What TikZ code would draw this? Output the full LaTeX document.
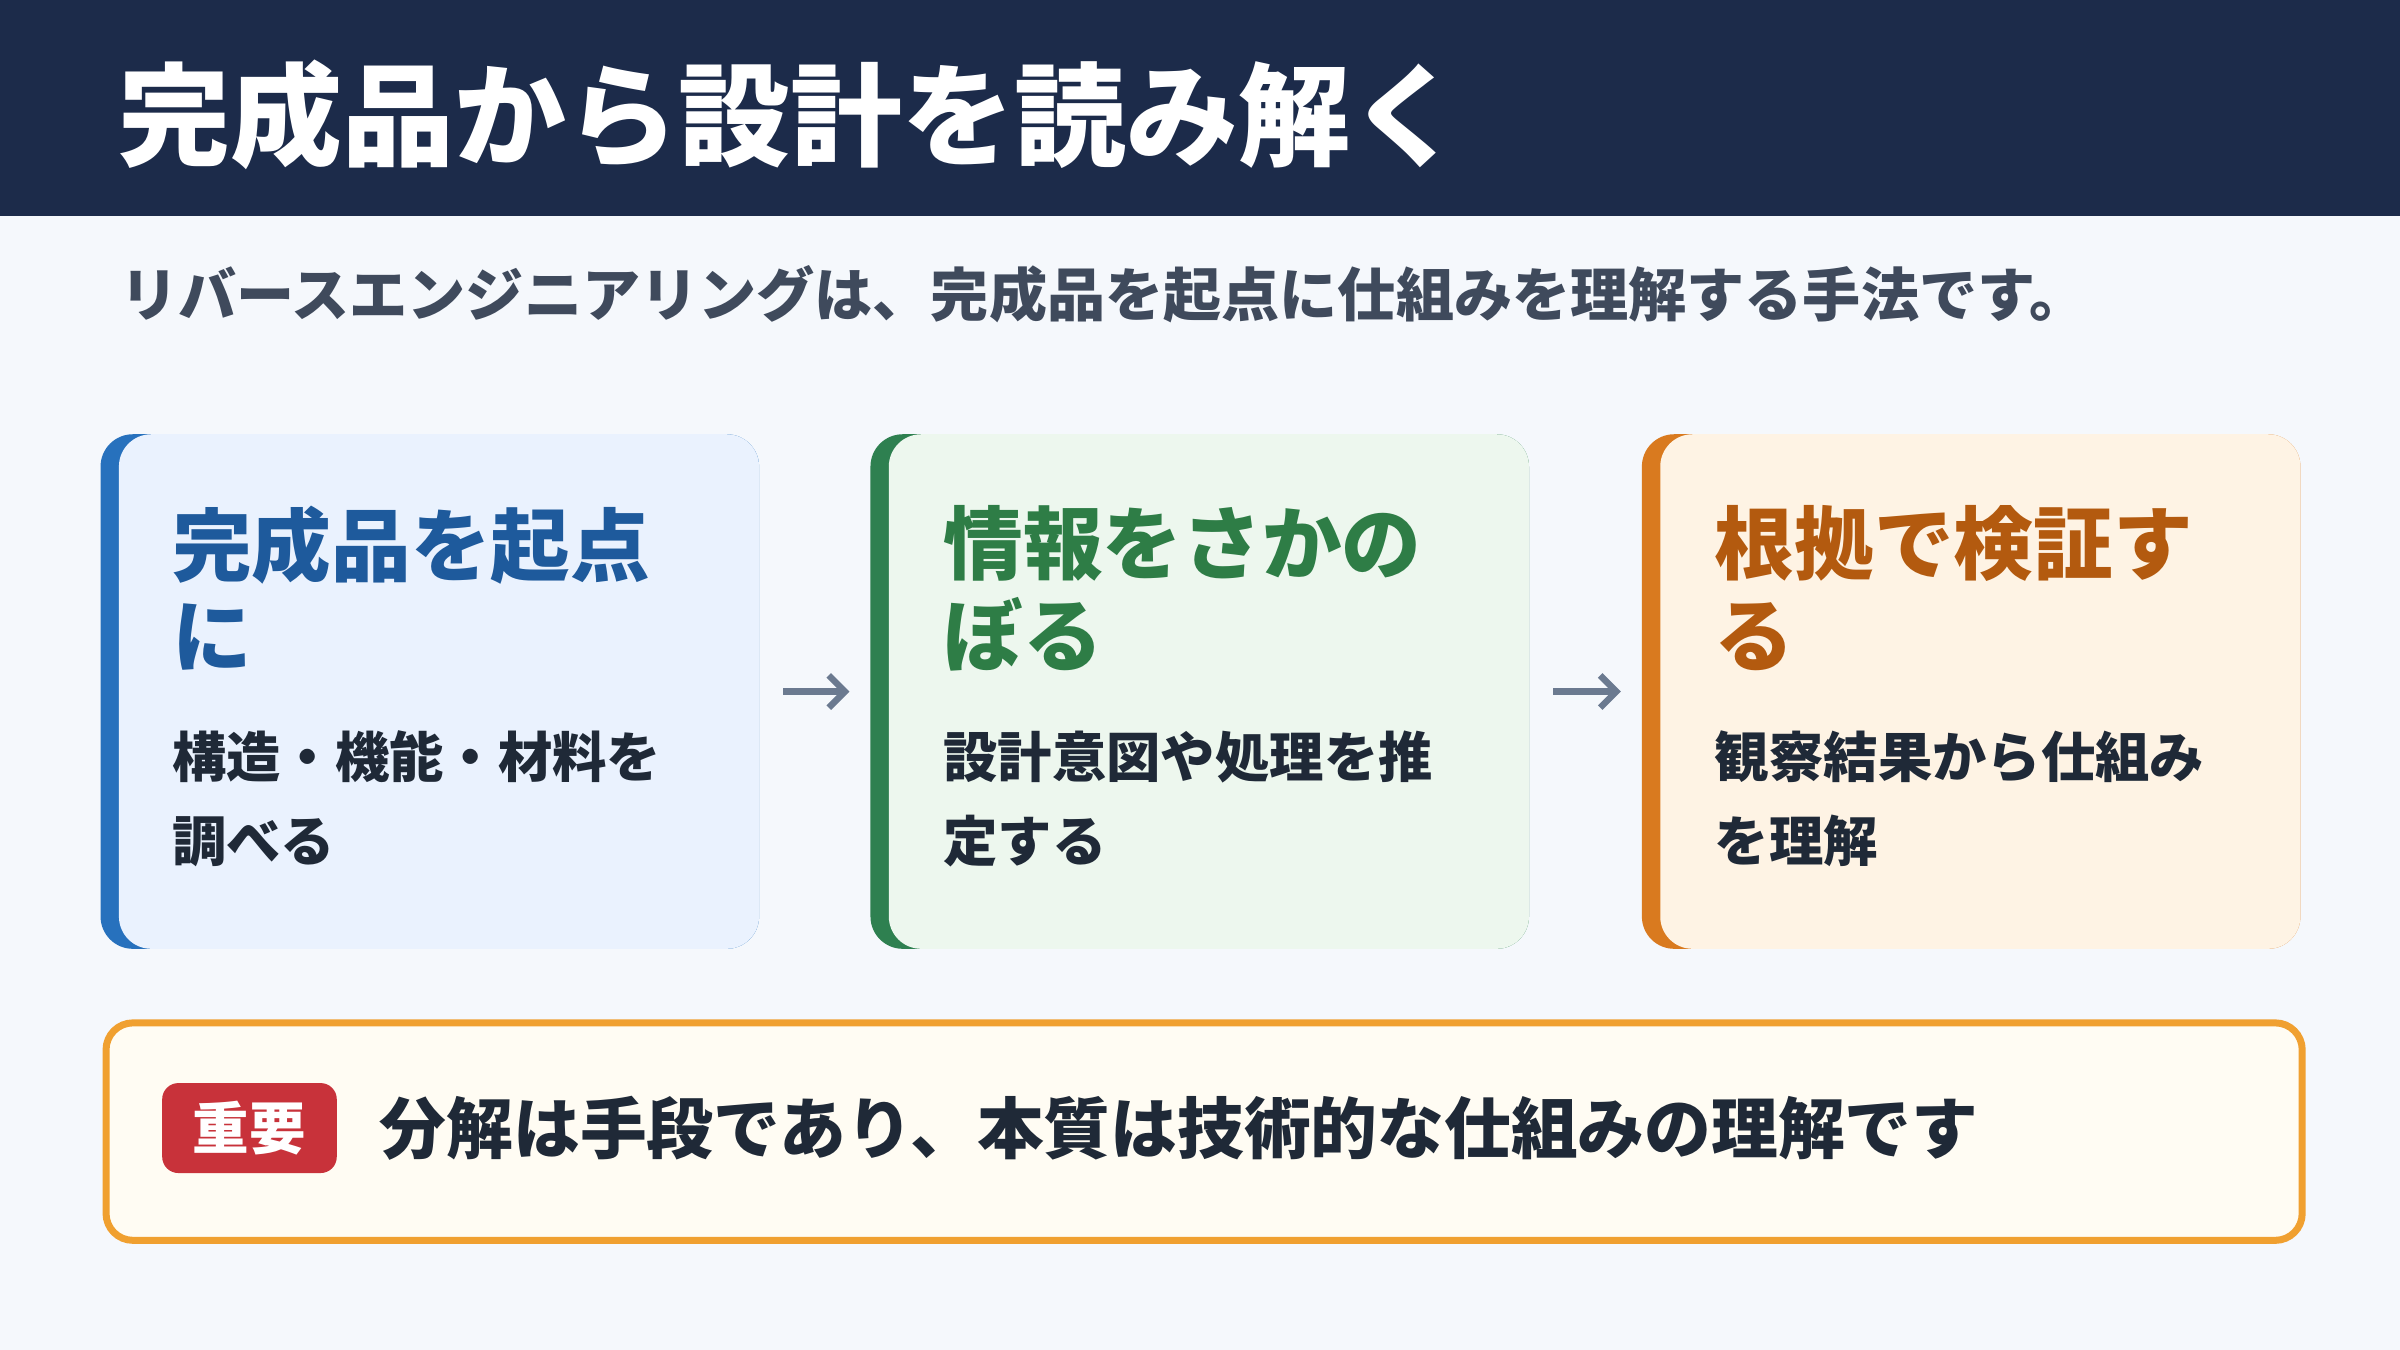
\documentclass[tikz,border=0pt]{standalone}
\usepackage{fontspec}
\setmainfont{Noto Sans CJK JP}
\usetikzlibrary{arrows.meta, positioning}
\definecolor{navy}{HTML}{1C2B4A}
\definecolor{pagebg}{HTML}{F5F8FC}
\definecolor{subgray}{HTML}{3F4A5C}
\definecolor{bodyink}{HTML}{1F2937}
\definecolor{blueacc}{HTML}{2771BD}
\definecolor{bluefill}{HTML}{EAF2FE}
\definecolor{bluehead}{HTML}{1E5A9C}
\definecolor{greenacc}{HTML}{2E8050}
\definecolor{greenfill}{HTML}{EDF7EE}
\definecolor{greenhead}{HTML}{2E7D46}
\definecolor{orangeacc}{HTML}{D97A1F}
\definecolor{orangefill}{HTML}{FEF3E4}
\definecolor{orangehead}{HTML}{B35A0F}
\definecolor{noteborder}{HTML}{F0A030}
\definecolor{notefill}{HTML}{FFFCF3}
\definecolor{badgered}{HTML}{C8323A}
\definecolor{arrowgray}{HTML}{6B7A90}

\begin{document}
\begin{tikzpicture}[
    x=0.01cm, y=-0.01cm,
    cardbar/.style={rectangle, rounded corners=6pt, minimum width=4.3cm, minimum height=3.36cm, anchor=north west},
    cardbody/.style={rectangle, rounded corners=6pt, minimum width=4.18cm, minimum height=3.36cm, anchor=north west},
    heading/.style={anchor=north west, align=left, font=\fontsize{14.8}{17}\selectfont\bfseries},
    bodytext/.style={anchor=north west, align=left, text=bodyink, font=\fontsize{10.1}{15.6}\selectfont\bfseries},
    flow/.style={-{Straight Barb[length=3pt,width=6pt]}, line width=1.2pt, arrowgray},
]

% === BACKGROUND ===
\fill[pagebg] (0,0) rectangle (1568,882);
\fill[navy] (0,0) rectangle (1568,141);
\node[anchor=west, text=white, font=\fontsize{20.8}{24}\selectfont\bfseries] (title) at (65,75) {完成品から設計を読み解く};
\node[anchor=west, text=subgray, font=\fontsize{10.8}{13}\selectfont\bfseries] (subtitle) at (66,192) {リバースエンジニアリングは、完成品を起点に仕組みを理解する手法です。};

% === CARDS ===
\node[cardbar, fill=blueacc] (card1) at (65,283) {};
\node[cardbody, fill=bluefill] at (77,283) {};
\node[cardbar, fill=greenacc] (card2) at (568,283) {};
\node[cardbody, fill=greenfill] at (580,283) {};
\node[cardbar, fill=orangeacc] (card3) at (1072,283) {};
\node[cardbody, fill=orangefill] at (1084,283) {};

% Card texts
\node[heading, text=bluehead] (head1) at (100,318) {完成品を起点\\に};
\node[bodytext] (body1) at (100,465) {構造・機能・材料を\\調べる};
\node[heading, text=greenhead] (head2) at (604,318) {情報をさかの\\ぼる};
\node[bodytext] (body2) at (604,465) {設計意図や処理を推\\定する};
\node[heading, text=orangehead] (head3) at (1108,318) {根拠で検証す\\る};
\node[bodytext] (body3) at (1108,465) {観察結果から仕組み\\を理解};

% === ARROWS ===
\draw[flow, shorten <=0.15cm, shorten >=0.13cm] (card1.east) -- (card2.west);
\draw[flow, shorten <=0.15cm, shorten >=0.13cm] (card2.east) -- (card3.west);

% === NOTE ===
\node[rectangle, draw=noteborder, line width=1.3pt, fill=notefill, rounded corners=5pt,
      minimum width=14.34cm, minimum height=1.42cm, anchor=north west] (note) at (67,666) {};
\node[rectangle, fill=badgered, rounded corners=3pt, minimum width=1.14cm, minimum height=0.57cm,
      text=white, font=\fontsize{10.5}{12}\selectfont\bfseries] (badge) at (163,737) {重要};
\node[right=0.15cm of badge, text=bodyink, font=\fontsize{12.4}{14}\selectfont\bfseries] (notetext) {分解は手段であり、本質は技術的な仕組みの理解です};

\end{tikzpicture}
\end{document}
